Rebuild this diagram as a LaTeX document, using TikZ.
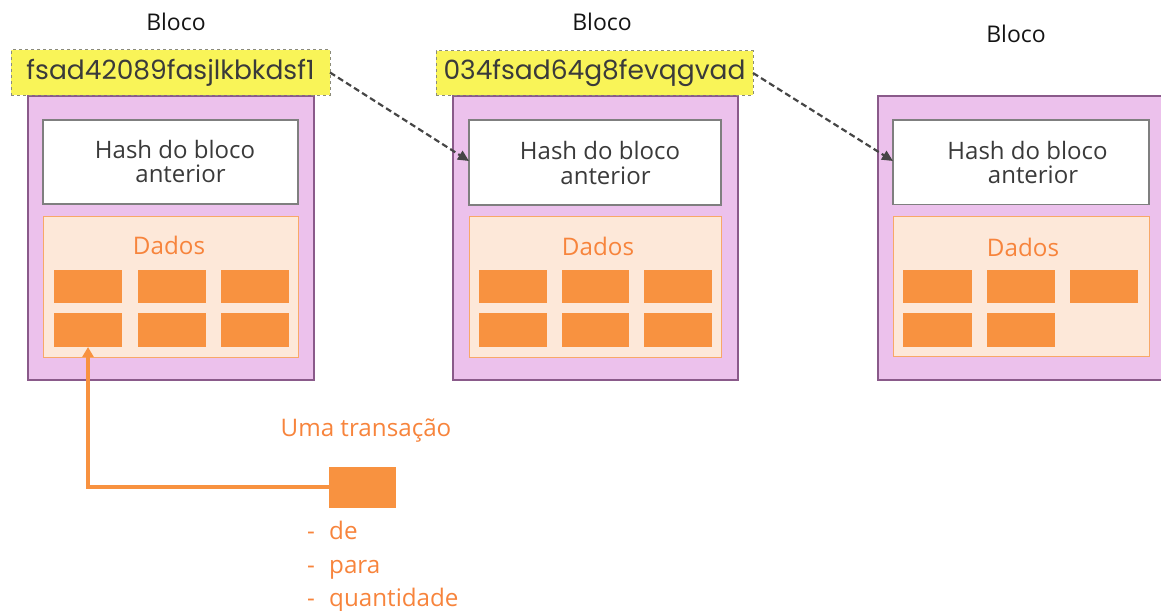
\documentclass[tikz,border=0pt]{standalone}
\usepackage{fontspec}
\setmainfont{Open Sans}
\newfontfamily\hashfont{Poppins}
\usetikzlibrary{arrows.meta}

\definecolor{blockfill}{HTML}{ECC1EC}
\definecolor{blockline}{HTML}{8A5A8A}
\definecolor{hashline}{HTML}{7F7F7F}
\definecolor{datafill}{HTML}{FDE8D9}
\definecolor{dataline}{HTML}{F8A868}
\definecolor{cellfill}{HTML}{F89240}
\definecolor{txtorange}{HTML}{F7843C}
\definecolor{labelfill}{HTML}{F9F458}
\definecolor{labelline}{HTML}{8C8C7A}
\definecolor{darktext}{HTML}{3A3A3A}
\definecolor{linkgray}{HTML}{454545}

% rectangle node given by its two corners: style, name, x1, y1, x2, y2
\newcommand\rectnode[6]{%
  \node[#1, minimum width={(#5-#3)*1pt}, minimum height={(#6-#4)*1pt}] (#2) at (#3,#4) {};}

\tikzset{
  box/.style={anchor=north west, inner sep=0pt, outer sep=0pt},
  block/.style={box, fill=blockfill, draw=blockline, line width=1.3pt},
  hashbox/.style={box, fill=white, draw=hashline, line width=1.6pt},
  databox/.style={box, fill=datafill, draw=dataline, line width=1pt},
  cell/.style={box, fill=cellfill},
  hashlabel/.style={inner sep=0pt, outer sep=0pt, fill=labelfill, draw=labelline,
    dashed, line width=1pt, text=darktext, font=\hashfont\fontsize{26.5}{28}\selectfont},
  title/.style={anchor=base, inner sep=0pt, font=\fontsize{23}{26}\selectfont, text=black!92},
  hashtext/.style={anchor=base, inner sep=0pt, text=darktext, font=\fontsize{24}{26}\selectfont},
  datatext/.style={anchor=base, inner sep=0pt, text=txtorange, font=\fontsize{24.2}{26}\selectfont},
  link/.style={draw=linkgray, line width=2.2pt, dash pattern=on 6pt off 3.5pt,
    -{Triangle[length=11pt,width=10pt]}},
  txlink/.style={draw=cellfill, line width=3.2pt, -{Triangle[length=10pt,width=11pt]}},
}

\begin{document}
\begin{tikzpicture}[x=1pt, y=-1pt]
\useasboundingbox (0,0) rectangle (1161,610);

% ---- block 1 ----
\node[title] (t1) at (176,31) {Bloco};
\rectnode{block}{b1}{28}{96}{314}{380}
\rectnode{hashbox}{h1}{43}{120}{298}{204}
\node[hashtext] (ht1a) at (175,158) {Hash do bloco};
\node[hashtext] (ht1b) at (180.5,182.5) {anterior};
\rectnode{databox}{d1}{43}{216}{298}{357}
\node[datatext] (dt1) at (169,254.3) {Dados};
\rectnode{cell}{c1-1}{54}{269.5}{122}{303}
\rectnode{cell}{c1-2}{138}{269.5}{206}{303}
\rectnode{cell}{c1-3}{221}{269.5}{289}{303}
\rectnode{cell}{c1-4}{54}{313}{122}{347}
\rectnode{cell}{c1-5}{138}{313}{206}{347}
\rectnode{cell}{c1-6}{221}{313}{289}{347}
\node[hashlabel, minimum width=319pt, minimum height=45pt] (l1) at (170.5,72.5) {fsad42089fasjlkbkdsf1};

% ---- block 2 ----
\node[title] (t2) at (602,31) {Bloco};
\rectnode{block}{b2}{453}{96}{738}{380}
\rectnode{hashbox}{h2}{469}{120}{721}{205}
\node[hashtext] (ht2a) at (600,159.5) {Hash do bloco};
\node[hashtext] (ht2b) at (605.5,184) {anterior};
\rectnode{databox}{d2}{469}{216}{721}{357}
\node[datatext] (dt2) at (598,255.5) {Dados};
\rectnode{cell}{c2-1}{479}{269.5}{547}{303}
\rectnode{cell}{c2-2}{562}{269.5}{629}{303}
\rectnode{cell}{c2-3}{644}{269.5}{712}{303}
\rectnode{cell}{c2-4}{479}{313}{547}{347}
\rectnode{cell}{c2-5}{562}{313}{629}{347}
\rectnode{cell}{c2-6}{644}{313}{712}{347}
\node[hashlabel, minimum width=317pt, minimum height=44pt] (l2) at (594.5,73) {034fsad64g8fevqgvad};

% ---- block 3 ----
\node[title] (t3) at (1016,43) {Bloco};
\rectnode{block}{b3}{878}{96}{1164}{380}
\rectnode{hashbox}{h3}{893}{120}{1149}{204.5}
\node[hashtext] (ht3a) at (1027.5,159.3) {Hash do bloco};
\node[hashtext] (ht3b) at (1033,183) {anterior};
\rectnode{databox}{d3}{893}{216.5}{1149}{356.5}
\node[datatext] (dt3) at (1023,256.7) {Dados};
\rectnode{cell}{c3-1}{903}{269.5}{971.5}{303}
\rectnode{cell}{c3-2}{987}{269.5}{1054.5}{303}
\rectnode{cell}{c3-3}{1069.5}{269.5}{1137.5}{303}
\rectnode{cell}{c3-4}{903}{313}{971.5}{347}
\rectnode{cell}{c3-5}{987}{313}{1054.5}{347}

% ---- links between blocks ----
\draw[link] (l1.east) -- (h2.west |- 0,161);
\draw[link] (l2.east) -- (h3.west |- 0,161);

% ---- a single transaction ----
\node[datatext] (tt) at (366,436) {Uma transação};
\rectnode{cell}{tx}{328.5}{466.5}{395.5}{507.5}
\draw[txlink] (tx.west) -| (c1-4.south);
\node[datatext, anchor=base west] (f1) at (307,539) {\makebox[22pt][l]{-}de};
\node[datatext, anchor=base west] (f2) at (307,573.5) {\makebox[22pt][l]{-}para};
\node[datatext, anchor=base west] (f3) at (307,606) {\makebox[22pt][l]{-}quantidade};
\end{tikzpicture}
\end{document}
